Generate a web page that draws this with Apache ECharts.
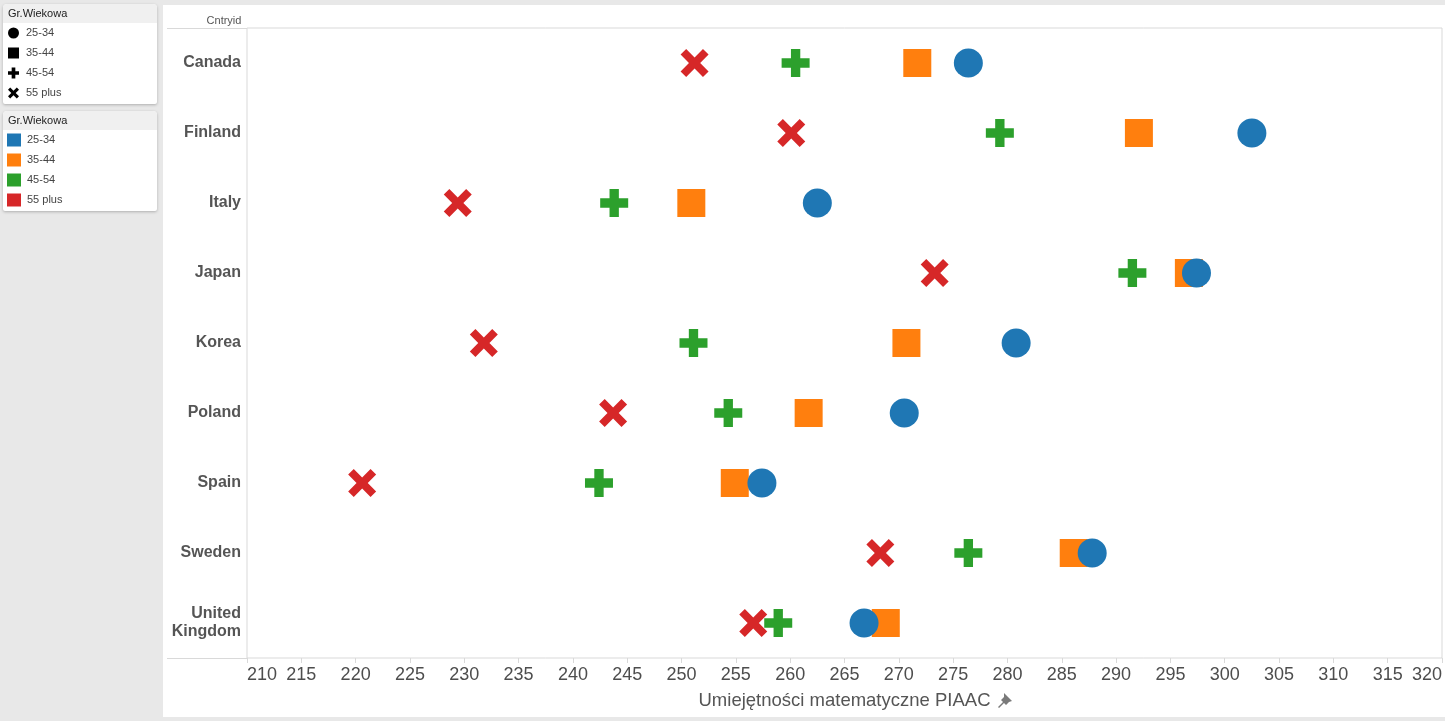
<!DOCTYPE html>
<html>
<head>
<meta charset="utf-8">
<script src="https://cdn.jsdelivr.net/npm/echarts@6/dist/echarts.min.js"></script>
<style>
  html, body { margin: 0; padding: 0; background: #e8e8e8; }
  #main { width: 1445px; height: 721px; }
</style>
</head>
<body>
<div id="main"></div>
<script>
// countries, top to bottom
const countries = ['Canada', 'Finland', 'Italy', 'Japan', 'Korea', 'Poland', 'Spain', 'Sweden', 'United Kingdom'];

// PIAAC numeracy scores per age group
const age2534 = [276.4, 302.5, 262.5, 297.4, 280.8, 270.5, 257.4, 287.8, 266.8];
const age3544 = [271.7, 292.1, 250.9, 296.7, 270.7, 261.7, 254.9, 286.1, 268.8];
const age4554 = [260.5, 279.3, 243.8, 291.5, 251.1, 254.3, 242.4, 276.4, 258.9];
const age55plus = [251.2, 260.1, 229.4, 273.3, 231.8, 243.7, 220.6, 268.3, 256.6];

const groupNames = ['25-34', '35-44', '45-54', '55 plus'];

const FONT = 'Arial, "Liberation Sans", sans-serif';
const PLUS = 'path://M3,0H6V3H9V6H6V9H3V6H0V3H3Z';
const CROSS = 'path://M2,0L5,3L8,0L10,2L7,5L10,8L8,10L5,7L2,10L0,8L3,5L0,2Z';

const groups = [
  { name: '25-34', values: age2534, symbol: 'circle', size: 29, color: '#1f77b4' },
  { name: '35-44', values: age3544, symbol: 'rect', size: 28, color: '#ff7f0e' },
  { name: '45-54', values: age4554, symbol: PLUS, size: 28, color: '#2ca02c' },
  { name: '55 plus', values: age55plus, symbol: CROSS, size: 28, color: '#d62728' }
];

// older groups first so circles end up on top
const series = groups.slice().reverse().map(g => ({
  name: g.name,
  type: 'scatter',
  symbol: g.symbol,
  symbolSize: g.size,
  itemStyle: { color: g.color, opacity: 1 },
  data: g.values.map((v, i) => [v, countries[i]])
}));

function legendPanel(y) {
  return [
    {
      type: 'rect',
      shape: { x: 3, y: y, width: 154, height: 100, r: [4, 4, 2, 2] },
      style: { fill: '#fff', shadowBlur: 3, shadowOffsetY: 1, shadowColor: 'rgba(0,0,0,0.25)' },
      z: -1
    },
    {
      type: 'rect',
      shape: { x: 3, y: y, width: 154, height: 19, r: [4, 4, 0, 0] },
      style: { fill: '#f0f0f0' },
      z: -1
    },
    {
      type: 'text',
      x: 8, y: y + 10,
      style: { text: 'Gr.Wiekowa', font: '11px ' + FONT, fill: '#222', verticalAlign: 'middle' }
    }
  ];
}

const chart = echarts.init(document.getElementById('main'));

const option = {
  backgroundColor: '#e8e8e8',
  animation: false,
  textStyle: { fontFamily: FONT },
  graphic: [
    {
      type: 'rect',
      shape: { x: 163, y: 5, width: 1282, height: 712 },
      style: { fill: '#fff' },
      z: -2
    },
    {
      type: 'text',
      x: 224, y: 21,
      style: { text: 'Cntryid', font: '11px ' + FONT, fill: '#555', align: 'center', verticalAlign: 'middle' }
    },
    {
      type: 'line',
      shape: { x1: 167, y1: 28.5, x2: 247, y2: 28.5 },
      style: { stroke: '#d9d9d9', lineWidth: 1 }
    },
    {
      type: 'line',
      shape: { x1: 167, y1: 658.5, x2: 247, y2: 658.5 },
      style: { stroke: '#d9d9d9', lineWidth: 1 }
    },
    // little pin after the axis title
    {
      type: 'polygon',
      shape: { points: [[1004, 693], [1012, 701], [1009, 702], [1006, 705], [1004, 703], [999, 708], [998, 707], [1003, 702], [1001, 700], [1004, 697]] },
      style: { fill: '#7a7a7a' }
    }
  ].concat(legendPanel(4), legendPanel(111)),
  legend: [
    {
      orient: 'vertical',
      left: 8, top: 26,
      padding: 0,
      itemWidth: 11, itemHeight: 11,
      itemGap: 6,
      textStyle: { fontSize: 11, color: '#444', lineHeight: 14, padding: [0, 0, 0, 2] },
      data: [
        { name: '25-34', icon: 'circle', itemStyle: { color: '#000' } },
        { name: '35-44', icon: 'rect', itemStyle: { color: '#000' } },
        { name: '45-54', icon: PLUS, itemStyle: { color: '#000' } },
        { name: '55 plus', icon: CROSS, itemStyle: { color: '#000' } }
      ]
    },
    {
      orient: 'vertical',
      left: 7, top: 133,
      padding: 0,
      itemWidth: 14, itemHeight: 13,
      itemGap: 6,
      textStyle: { fontSize: 11, color: '#444', lineHeight: 14, padding: [0, 0, 0, 1] },
      data: groupNames.map(n => ({ name: n, icon: 'rect' }))
    }
  ],
  grid: {
    left: 247, right: 2, top: 28, bottom: 63,
    show: true,
    borderColor: '#d9d9d9',
    borderWidth: 1,
    containLabel: false
  },
  xAxis: {
    type: 'value',
    min: 210, max: 320, interval: 5,
    axisLine: { show: false },
    axisTick: { show: true, length: 5, lineStyle: { color: '#d9d9d9' } },
    splitLine: { show: false },
    axisLabel: {
      fontSize: 18, color: '#4d4d4d', margin: 8,
      alignMinLabel: 'left', alignMaxLabel: 'right'
    },
    name: 'Umiejętności matematyczne PIAAC',
    nameLocation: 'middle',
    nameGap: 33,
    nameTextStyle: { fontSize: 18.5, color: '#555' }
  },
  yAxis: {
    type: 'category',
    data: countries,
    inverse: true,
    axisLine: { show: false },
    axisTick: { show: false },
    splitLine: { show: false },
    axisLabel: {
      fontSize: 16, fontWeight: 'bold', color: '#555', margin: 6,
      lineHeight: 18,
      formatter: v => v.replace(' ', '\n')
    }
  },
  series: series
};

chart.setOption(option);
</script>
</body>
</html>
